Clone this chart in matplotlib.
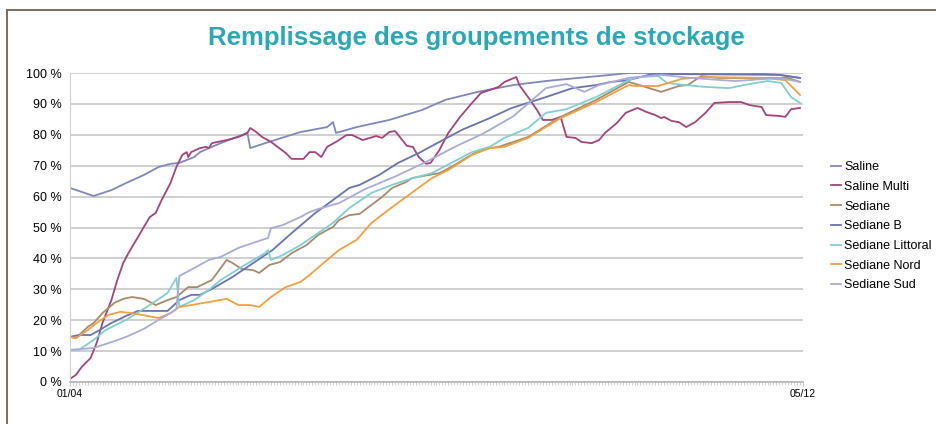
import matplotlib
matplotlib.use("Agg")
import matplotlib.pyplot as plt
from matplotlib.lines import Line2D
import numpy as np

plt.rcParams['font.family'] = ['Liberation Sans', 'DejaVu Sans']

# days counted from 01/04 (day 0) to 05/12 (day 248), values in %
saline_d = [0, 4, 8, 14, 19, 25, 30, 34, 37, 42, 44, 47, 51, 60, 61, 66, 78, 87, 89, 90,
            97, 108, 119, 127, 138, 150, 161, 172, 183, 189, 200, 230, 240, 247]
saline_v = [62.8, 61.5, 60.2, 62.1, 64.4, 67.0, 69.6, 70.6, 70.9, 72.8, 74.4, 75.7, 77.3, 80.6, 75.7, 77.3, 80.9, 82.5, 84.1, 80.6,
            82.5, 84.8, 88.0, 91.3, 93.9, 96.1, 97.4, 98.4, 99.4, 100, 100, 100, 99.4, 98.4]

multi_d = [0, 2, 4, 7, 9, 11, 14, 16, 18, 20, 23, 25, 27, 29, 31, 34, 36, 38, 39.5, 40, 41, 44, 46,
           47, 48, 53, 57, 60, 61, 63, 65, 68, 73, 75, 79, 81, 83, 85, 87, 90, 93.5, 95.5, 99, 103.6, 105.6,
           108, 110, 114, 116, 118, 120.5, 122, 125, 128, 132, 136, 139, 142, 145, 147, 151, 152, 155, 158,
           160, 163, 166, 168, 171, 173, 176.5, 179, 181, 185, 188, 192, 195, 198, 200, 201, 203.5, 206,
           208.5, 211.5, 215, 218, 223, 227, 230, 234, 235.5, 240, 242, 244, 247]
multi_v = [1.0, 2.3, 4.9, 7.8, 12.6, 19.1, 26.5, 33.0, 38.5, 42.1, 46.9, 50.2, 53.4, 54.7, 58.9, 64.4, 69.6, 73.5, 74.4, 72.8, 74.4, 75.7, 76.1,
           75.7, 77.3, 78.3, 79.3, 80.6, 82.2, 80.9, 79.3, 77.7, 74.1, 72.2, 72.2, 74.4, 74.4, 72.8, 76.1, 77.7, 79.9, 79.9, 78.3, 79.6, 79.0,
           80.9, 81.2, 76.4, 76.1, 72.8, 70.6, 70.9, 75.1, 80.6, 85.8, 90.3, 93.5, 94.5, 95.5, 97.1, 98.7, 96.1, 92.2, 88.0,
           84.8, 84.8, 85.8, 79.3, 79.0, 77.7, 77.3, 78.3, 80.6, 83.8, 87.1, 88.7, 87.4, 86.4, 85.4, 85.8, 84.5, 84.1,
           82.5, 84.1, 87.1, 90.3, 90.6, 90.6, 89.6, 89.0, 86.4, 86.1, 85.8, 88.3, 88.7]

sed_d = [0, 2, 6, 8, 11, 15, 18, 21, 25, 29, 33, 36, 40, 43, 48, 53, 55, 58, 62, 64, 67.5, 71, 75,
         80, 84, 89, 91, 94.5, 98, 101, 105.6, 109, 113.7, 115.7, 121.5, 125, 129, 134, 137, 142, 145,
         155, 166, 178, 189, 191.6, 200, 206, 209, 213.6, 219, 233, 243, 247]
sed_v = [14.6, 14.2, 17.8, 19.1, 22.3, 25.6, 26.9, 27.5, 26.9, 24.9, 26.5, 27.5, 30.7, 30.7, 33.0, 39.5, 38.5, 36.6, 36.2, 35.3, 37.9, 38.8, 41.7,
         44.3, 47.6, 50.2, 52.4, 54.0, 54.4, 56.6, 59.9, 62.8, 64.7, 66.0, 67.0, 67.6, 69.6, 72.5, 74.1, 75.7, 76.1,
         79.3, 85.8, 91.3, 97.1, 96.4, 93.9, 95.8, 96.1, 99.0, 98.4, 98.4, 98.4, 97.1]

sedb_d = [0, 3, 7, 10, 14, 19, 23, 26, 30, 33, 37, 41, 44, 48, 55, 62, 68.5, 75, 83, 89, 94.5, 98,
          104.6, 111, 118, 125, 132.6, 142, 149.5, 161, 170, 178, 183, 189, 197, 240, 247]
sedb_v = [14.6, 15.2, 15.2, 16.8, 19.1, 21.4, 23.0, 23.0, 23.0, 23.0, 26.5, 28.2, 28.2, 30.1, 34.0, 38.5, 42.7, 48.2, 54.7, 58.9, 62.8, 63.8,
          67.0, 70.9, 74.1, 77.7, 81.6, 85.4, 88.7, 92.2, 95.1, 96.1, 97.1, 97.7, 99.7, 99.4, 98.4]

lit_d = [0, 3, 8, 12, 19, 26, 33, 36, 37, 42, 47, 51, 58, 66, 67, 68, 72, 78, 83, 89, 94.5, 97,
         102, 109, 116, 122.5, 129, 136, 142, 147, 155, 161, 168, 178, 189, 192, 199, 202, 208, 215,
         223, 228, 236, 240.6, 244, 247]
lit_v = [10.4, 10.4, 13.6, 16.8, 20.1, 24.3, 28.8, 33.7, 24.3, 26.5, 29.8, 33.0, 37.2, 41.7, 42.7, 39.5, 41.1, 44.3, 47.6, 51.5, 56.3, 57.9,
         61.2, 63.8, 66.0, 67.6, 70.9, 74.4, 76.1, 79.0, 82.2, 87.1, 88.3, 92.2, 97.7, 98.7, 99.0, 96.8, 96.1, 95.5,
         95.1, 96.1, 97.4, 96.8, 92.2, 90.3]

nord_d = [0, 2, 6, 9, 13, 17, 21, 26, 30, 34, 37, 41, 47, 53, 57, 61, 64, 68, 73, 78, 81, 87, 91,
          97, 102, 109, 116, 122.5, 128, 136, 142, 147, 155, 166, 178, 189, 191, 199, 207, 215, 235, 242, 247]
nord_v = [14.6, 14.2, 16.8, 19.1, 21.7, 22.7, 22.3, 21.4, 20.7, 22.3, 24.3, 24.9, 25.9, 26.9, 24.9, 24.9, 24.3, 27.5, 30.7, 32.4, 34.6, 39.5, 42.7,
          46.0, 51.5, 56.6, 61.5, 66.0, 68.6, 73.5, 75.7, 76.1, 79.0, 85.4, 90.6, 96.1, 95.8, 95.8, 98.1, 98.7, 98.4, 97.7, 92.9]

sud_d = [0, 8, 14, 19, 25, 30, 34, 36, 37, 42, 47, 51, 57, 65, 67, 68, 72, 78, 81, 84, 91,
         100, 110, 120, 130, 140, 150, 161, 168, 174, 179, 189, 200, 210, 225, 240, 247]
sud_v = [10.4, 11.0, 12.9, 14.6, 17.2, 20.1, 22.3, 23.6, 34.3, 36.9, 39.5, 40.5, 43.4, 46.0, 46.6, 49.8, 50.8, 53.4, 55.0, 56.0, 57.9,
         62.5, 66.5, 71.0, 76.0, 80.5, 86.0, 95.1, 96.4, 93.9, 96.1, 98.4, 99.4, 98.4, 97.4, 98.4, 97.1]

series = [
    ("Saline", saline_d, saline_v, "#8087bb"),
    ("Saline Multi", multi_d, multi_v, "#a3447a"),
    ("Sediane", sed_d, sed_v, "#a88a6a"),
    ("Sediane B", sedb_d, sedb_v, "#6a73b0"),
    ("Sediane Littoral", lit_d, lit_v, "#80cfd0"),
    ("Sediane Nord", nord_d, nord_v, "#f0a040"),
    ("Sediane Sud", sud_d, sud_v, "#a9acd8"),
]

fig = plt.figure(figsize=(9.37, 4.24), dpi=100)
ax = fig.add_axes([70/937, 1-382/424, (803-70)/937, (382-73)/424])

for name, d, v, c in series:
    ax.plot(d, v, color=c, lw=1.3, label=name)

ax.set_xlim(0, 248)
ax.set_ylim(0, 100)
ax.set_yticks(np.arange(0, 101, 10))
ax.set_yticklabels([f"{t} %" for t in range(0, 101, 10)], fontsize=9)
ax.set_xticks([0, 248])
ax.set_xticklabels(["01/04", "05/12"], fontsize=7.5)
ax.set_xticks(np.arange(0, 249, 1), minor=True)
ax.tick_params(axis='x', which='minor', length=2, color='#c8c8c8', width=0.6)
ax.tick_params(axis='x', which='major', length=3, color='#c8c8c8', pad=2)
ax.tick_params(axis='y', length=0, pad=6)
ax.yaxis.grid(True, color='#cccccc', lw=1.3)
ax.set_axisbelow(True)
for s in ['top', 'right']:
    ax.spines[s].set_visible(False)
ax.spines['left'].set_color('#d0d0d0')
ax.spines['bottom'].set_color('#bbbbbb')
ax.spines['bottom'].set_linewidth(1.3)

fig.text(476/937, 1-38/424, "Remplissage des groupements de stockage",
         ha='center', va='center', fontsize=18.5, fontweight='bold', color='#2aa9b5')

fig.legend(loc='upper left', bbox_to_anchor=(826/937, 1-156/424), frameon=False,
           fontsize=9, handlelength=0.8, handletextpad=0.25, labelspacing=0.62,
           borderaxespad=0)

# frame border
fig.add_artist(Line2D([7/937, 1], [1-10/424, 1-10/424], color='#7d6b62', lw=1.4))
fig.add_artist(Line2D([7/937, 7/937], [0, 1-10/424], color='#7d6b62', lw=1.4))

fig.savefig("out.png", dpi=100)
